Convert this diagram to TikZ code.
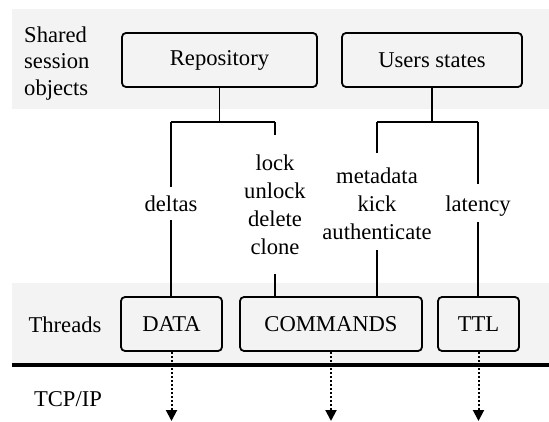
\documentclass[tikz,border=0pt]{standalone}
\usepackage{fontspec}
\setmainfont{Liberation Serif}
\usetikzlibrary{arrows.meta}
\definecolor{bandgray}{RGB}{243,243,243}
\tikzset{
  box/.style={draw, line width=1.8pt, rounded corners=4pt, minimum height=54pt, inner sep=0pt, font=\rmfamily\fontsize{22.6}{28}\selectfont},
  lbl/.style={inner sep=0pt, align=center, font=\rmfamily\fontsize{22.6}{28}\selectfont},
  side/.style={inner sep=0pt, font=\rmfamily\fontsize{22.6}{26.5}\selectfont},
  conn/.style={line width=1.8pt},
  net/.style={line width=2pt, dash pattern=on 2pt off 2pt, -{Triangle[length=11pt,width=11pt]}},
}
\begin{document}
\begin{tikzpicture}[x=1pt,y=-1pt]
\useasboundingbox (0,0) rectangle (549,422);
\fill[white] (0,0) rectangle (549,422);
% bands
\fill[bandgray] (12,9) rectangle (549,109);
\fill[bandgray] (12,283) rectangle (549,363);
\draw[line width=4pt] (12,365) -- (549,365);
% side labels
\node[side, anchor=north west, align=left] (shared) at (24,26.6) {Shared\\session\\objects};
\node[side, anchor=base] (threads) at (65,332) {Threads};
\node[side, anchor=base] (tcp) at (68,406) {TCP/IP};
% boxes
\node[box, minimum width=195pt] (repo) at (219.5,60) {Repository};
\node[box, minimum width=180pt] (users) at (432,60) {Users states};
\node[box, minimum width=101pt] (data) at (171.5,324) {DATA};
\node[box, minimum width=182pt] (cmds) at (331,324) {COMMANDS};
\node[box, minimum width=81pt] (ttl) at (478.5,324) {TTL};
% junctions
\coordinate (rj) at (219.5,122);
\coordinate (rjl) at (171,122);
\coordinate (rjr) at (275,122);
\coordinate (uj) at (432,122);
\coordinate (ujl) at (377,122);
\coordinate (ujr) at (478,122);
% labels
\node[lbl, anchor=base, text depth=0pt] (deltas) at (171,212) {deltas};
\node[lbl, anchor=north] (lock) at (275,155) {lock\\unlock\\delete\\clone};
\node[lbl, anchor=north] (meta) at (377,168) {metadata\\kick\\authenticate};
\node[lbl, anchor=base, text depth=0pt] (lat) at (478,212) {latency};
% connectors
\draw[conn] (repo.south) -- (rj);
\draw[conn] (rjl) -- (rjr);
\draw[conn] (users.south) -- (uj);
\draw[conn] (ujl) -- (ujr);
\draw[conn] (rjl) -- ([yshift=9pt]deltas.north);
\draw[conn] ([yshift=-8pt]deltas.south) -- (data.north -| rjl);
\draw[conn] (rjr) -- ([yshift=20pt]lock.north);
\draw[conn] ([yshift=-19pt]lock.south) -- (cmds.north -| rjr);
\draw[conn] (ujl) -- ([yshift=15pt]meta.north);
\draw[conn] ([yshift=-10pt]meta.south) -- (cmds.north -| ujl);
\draw[conn] (ujr) -- ([yshift=12pt]lat.north);
\draw[conn] ([yshift=-10pt]lat.south) -- (ttl.north -| ujr);
% network arrows
\coordinate (d1) at (171.5,421);
\coordinate (d2) at (331,421);
\coordinate (d3) at (478.5,421);
\draw[net] (data.south) -- (d1);
\draw[net] (cmds.south) -- (d2);
\draw[net] (ttl.south) -- (d3);
\end{tikzpicture}
\end{document}
